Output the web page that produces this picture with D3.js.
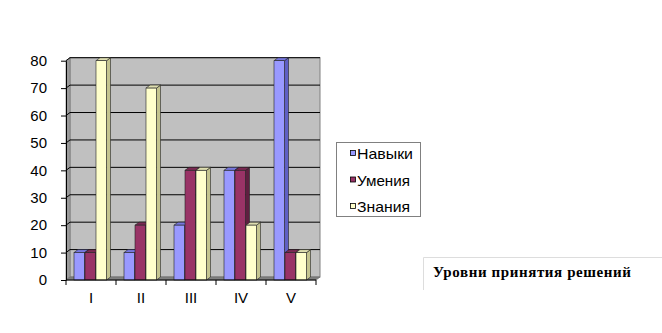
<!DOCTYPE html>
<html><head><meta charset="utf-8">
<script src="https://cdn.jsdelivr.net/npm/d3@7"></script>
<style>html,body{margin:0;padding:0;background:#fff;}svg{display:block;}</style>
</head><body>
<script>
const categories = ["I", "II", "III", "IV", "V"];
const seriesNames = ["Навыки", "Умения", "Знания"];
const navyki = [10, 10, 20, 40, 80];
const umeniya = [10, 20, 40, 40, 10];
const znaniya = [80, 70, 40, 20, 10];
const yTicks = [0, 10, 20, 30, 40, 50, 60, 70, 80];
const titleText = "Уровни принятия решений";

const seriesValues = [navyki, umeniya, znaniya];
const fronts = ["#9999FF", "#993366", "#FFFFCC"];
const sides = ["#5f5fc4", "#5e1f40", "#c4c48f"];
const tops = ["#7777dd", "#7a2952", "#dedeb0"];

const W = 662, H = 333;
const svg = d3.select("body").append("svg").attr("width", W).attr("height", H);

const x = d3.scaleBand().domain(categories).range([66, 316]);
const x1 = d3.scaleBand().domain(seriesNames).range([8, 41]);
const y = d3.scaleLinear().domain([0, 80]).range([280, 60.7]);
const dx = 4, dy = 3;
const sans = "Arial, 'Liberation Sans', sans-serif";

// back wall
svg.append("rect").attr("x", 66 + dx).attr("y", y(80) - dy)
  .attr("width", 316 - 66).attr("height", y(0) - y(80))
  .attr("fill", "#C0C0C0").attr("stroke", "#808080").attr("stroke-width", 1);
// left wall
svg.append("polygon").attr("points", [[66, y(80)], [66 + dx, y(80) - dy], [66 + dx, y(0) - dy], [66, y(0)]].join(" "))
  .attr("fill", "#9a9a9a").attr("stroke", "#808080").attr("stroke-width", 0.8);
// floor
svg.append("polygon").attr("points", [[66, y(0)], [66 + dx, y(0) - dy], [316 + dx, y(0) - dy], [316, y(0)]].join(" "))
  .attr("fill", "#808080").attr("stroke", "#707070").attr("stroke-width", 0.8);

// gridlines
const g = svg.append("g");
yTicks.filter(v => v > 0).forEach(v => {
  g.append("line").attr("x1", 66 + dx).attr("x2", 316 + dx).attr("y1", y(v) - dy).attr("y2", y(v) - dy)
    .attr("stroke", "#000").attr("stroke-width", 1);
  g.append("line").attr("x1", 66).attr("x2", 66 + dx).attr("y1", y(v)).attr("y2", y(v) - dy)
    .attr("stroke", "#000").attr("stroke-width", 1);
});

// bars
categories.forEach((c, ci) => {
  seriesNames.forEach((s, si) => {
    const v = seriesValues[si][ci];
    const bx = x(c) + x1(s), bw = x1.bandwidth() - 0.5, by = y(v), b0 = y(0);
    const bg = svg.append("g");
    bg.append("polygon").attr("points", [[bx + bw, by], [bx + bw + dx, by - dy], [bx + bw + dx, b0 - dy], [bx + bw, b0]].join(" "))
      .attr("fill", sides[si]).attr("stroke", "#222").attr("stroke-width", 0.6);
    bg.append("polygon").attr("points", [[bx, by], [bx + dx, by - dy], [bx + bw + dx, by - dy], [bx + bw, by]].join(" "))
      .attr("fill", tops[si]).attr("stroke", "#222").attr("stroke-width", 0.6);
    bg.append("rect").attr("x", bx).attr("y", by).attr("width", bw).attr("height", b0 - by)
      .attr("fill", fronts[si]).attr("stroke", "#222").attr("stroke-width", 0.6);
  });
});

// axes
const yAxis = d3.axisLeft(y).tickValues(yTicks).tickSize(5).tickPadding(14).tickSizeOuter(0);
const ya = svg.append("g").attr("transform", "translate(66,0)").call(yAxis);
ya.selectAll("text").attr("font-family", sans).attr("font-size", 15).attr("fill", "#000");
ya.selectAll("line,path").attr("stroke", "#000");

const xa = svg.append("g").attr("transform", "translate(0,280)");
xa.append("line").attr("x1", 66).attr("x2", 316).attr("stroke", "#000");
categories.concat([null]).forEach((c, i) => {
  const tx = c === null ? 316 : x(c);
  xa.append("line").attr("x1", tx).attr("x2", tx).attr("y1", 0).attr("y2", 5).attr("stroke", "#000");
});
categories.forEach(c => {
  xa.append("text").attr("x", x(c) + x.bandwidth() / 2).attr("y", 23)
    .attr("text-anchor", "middle").attr("font-family", sans)
    .attr("font-size", 15).text(c);
});

// legend
const lg = svg.append("g");
lg.append("rect").attr("x", 336.5).attr("y", 142.5).attr("width", 84).attr("height", 74)
  .attr("fill", "#fff").attr("stroke", "#808080");
const rowsY = [154, 180.5, 207];
seriesNames.forEach((s, i) => {
  lg.append("rect").attr("x", 350.5).attr("y", rowsY[i] - 3.5).attr("width", 5).attr("height", 5)
    .attr("fill", fronts[i]).attr("stroke", "#000").attr("stroke-width", 0.8);
  lg.append("text").attr("x", 357).attr("y", rowsY[i] + 5)
    .attr("font-family", sans).attr("font-size", 14.5)
    .attr("textLength", i === 0 ? 56 : 53).attr("lengthAdjust", "spacingAndGlyphs").text(s);
});

// title box
svg.append("line").attr("x1", 423.5).attr("x2", 662).attr("y1", 257.5).attr("y2", 257.5).attr("stroke", "#ddd");
svg.append("line").attr("x1", 423.5).attr("x2", 423.5).attr("y1", 257.5).attr("y2", 290).attr("stroke", "#ddd");
svg.append("text").attr("x", 433).attr("y", 276.5).attr("font-family", "'Liberation Serif', 'Times New Roman', serif")
  .attr("font-weight", "bold").attr("font-size", 15).attr("textLength", 198).attr("lengthAdjust", "spacing")
  .text(titleText);
</script>
</body></html>
